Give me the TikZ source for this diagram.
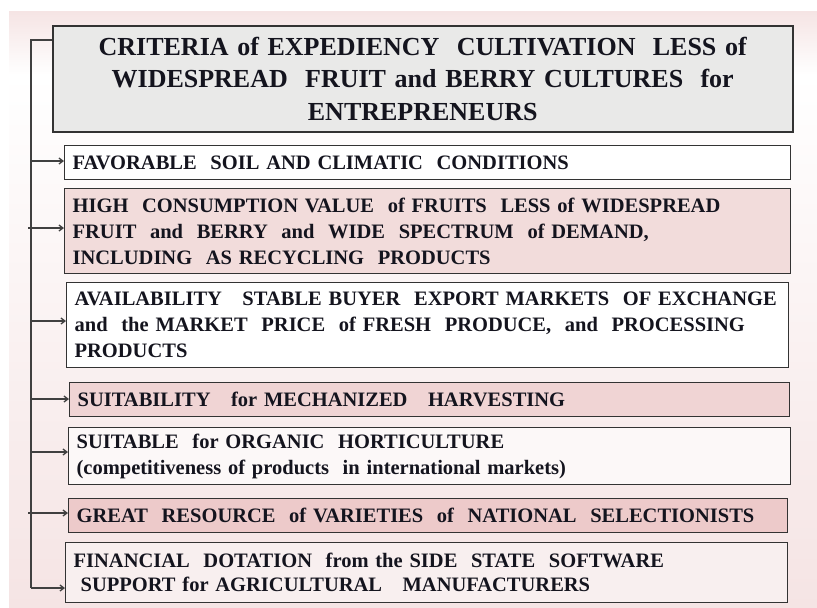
\documentclass[tikz,border=0pt]{standalone}
\usepackage{fontspec}
\setmainfont{Liberation Serif}
\usetikzlibrary{arrows.meta}
\definecolor{slidepink}{HTML}{F5E4E4}
\definecolor{titlegray}{HTML}{E9E9E8}
\definecolor{rosefill}{HTML}{F2DCDB}
\definecolor{rosefilltwo}{HTML}{F0D4D4}
\definecolor{rosefillthree}{HTML}{EDCACA}
\definecolor{palefill}{HTML}{FCF8F8}
\definecolor{palefilltwo}{HTML}{F8EFEF}
\definecolor{inkcolor}{HTML}{14141E}
\begin{document}
\begin{tikzpicture}
[x=1pt,y=-1pt,
  titledecorate/.style={draw=black!80,line width=1.5pt,fill=titlegray,anchor=north west,
    align=center,inner xsep=8pt,inner ysep=0pt,text=inkcolor,
    font=\bfseries\fontsize{26}{32.5}\selectfont},
  boxdecorate/.style={draw=black!80,line width=1.3pt,anchor=north west,align=left,
    inner xsep=8pt,inner ysep=0pt,text=inkcolor,
    font=\bfseries\fontsize{20.5}{26}\selectfont},
  linedecorate/.style={-,line width=1.3pt,draw=black!75},
  arrowdecorate/.style={-{Straight Barb[length=4pt,width=6pt]},line width=1.3pt,draw=black!75}]
\useasboundingbox (0,0) rectangle (817,608);
%%% slide background
\shade[top color=slidepink,bottom color=white] (9,11) rectangle (817,75);
\shade[top color=white,bottom color=slidepink] (9,75) rectangle (817,608);
%
%%% heading and criteria boxes
\node (title) at (52,25) [titledecorate,text width=724pt,minimum height=106pt]
  {CRITERIA of EXPEDIENCY~ CULTIVATION~ LESS of\\
   WIDESPREAD~ FRUIT and BERRY CULTURES~ for\\
   ENTREPRENEURS};
\node (soil) at (64,145) [boxdecorate,fill=white,text width=710pt,minimum height=34pt]
  {FAVORABLE~ SOIL AND CLIMATIC~ CONDITIONS};
\node (value) at (64,188) [boxdecorate,fill=rosefill,text width=710pt,minimum height=85pt]
  {HIGH~ CONSUMPTION VALUE~ of FRUITS~ LESS of WIDESPREAD\\
   FRUIT~ and~ BERRY~ and~ WIDE~ SPECTRUM~ of DEMAND,\\
   INCLUDING~ AS RECYCLING~ PRODUCTS};
\node (market) at (66,282) [boxdecorate,fill=white,text width=706pt,minimum height=85pt]
  {AVAILABILITY~~ STABLE BUYER~ EXPORT MARKETS~ OF EXCHANGE\\
   and~ the MARKET~ PRICE~ of FRESH~ PRODUCE,~ and~ PROCESSING\\
   PRODUCTS};
\node (harvest) at (69,382) [boxdecorate,fill=rosefilltwo,text width=704pt,minimum height=34pt]
  {SUITABILITY~~ for MECHANIZED~~ HARVESTING};
\node (organic) at (68,427) [boxdecorate,fill=palefill,text width=706pt,minimum height=57pt]
  {SUITABLE~ for ORGANIC~ HORTICULTURE\\
   (competitiveness of products~ in international markets)};
\node (variety) at (68,498) [boxdecorate,fill=rosefillthree,text width=703pt,minimum height=34pt]
  {GREAT~ RESOURCE~ of VARIETIES~ of~ NATIONAL~ SELECTIONISTS};
\node (finance) at (65,542) [boxdecorate,fill=palefilltwo,text width=706pt,minimum height=60pt,
  font=\bfseries\fontsize{20.5}{24}\selectfont]
  {FINANCIAL~ DOTATION~ from the SIDE~ STATE~ SOFTWARE\\
   \hspace*{7pt}SUPPORT for AGRICULTURAL~~ MANUFACTURERS};
%
%%% bracket and arrows
% corner points on the bracket
\coordinate (top) at (31,40);
\coordinate (bot) at (31,588);
\coordinate (a1) at (31,161);
\coordinate (a2) at (28,228);
\coordinate (a3) at (31,321);
\coordinate (a4) at (31,399);
\coordinate (a5) at (31,452);
\coordinate (a6) at (28,513);
\draw[linedecorate] (title.west |- top) -- (top) -- (bot);
\path
(a1) edge[arrowdecorate] (a1 -| soil.west)
(a2) edge[arrowdecorate] (a2 -| value.west)
(a3) edge[arrowdecorate] (a3 -| market.west)
(a4) edge[arrowdecorate] (a4 -| harvest.west)
(a5) edge[arrowdecorate] (a5 -| organic.west)
(a6) edge[arrowdecorate] (a6 -| variety.west)
(bot) edge[arrowdecorate] (bot -| finance.west);
\end{tikzpicture}
\end{document}
